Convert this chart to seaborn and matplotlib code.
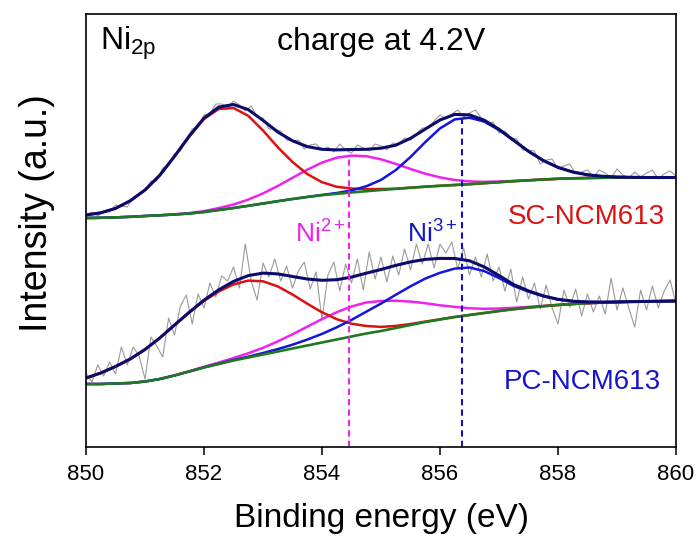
import numpy as np
import pandas as pd
import matplotlib
matplotlib.use("Agg")
import matplotlib.pyplot as plt
import seaborn as sns

# Binding energy grids (eV): fitted curves every 0.25 eV, raw spectra every 0.1 eV
fit_energy = np.round(np.arange(850.0, 860.001, 0.25), 2)
raw_energy = np.round(np.arange(850.0, 860.001, 0.1), 1)

# SC-NCM613 (upper spectrum), intensity in arbitrary units
sc_baseline = [229.0, 229.2, 229.6, 230.2, 231.0, 231.7, 232.5, 233.5, 235.0, 237.0,
               239.0, 241.2, 243.5, 245.8, 248.0, 250.0, 251.8, 253.2, 254.5, 255.8,
               257.0, 258.2, 259.3, 260.3, 261.2, 262.0, 262.8, 263.8, 264.8, 265.8,
               266.7, 267.5, 268.2, 268.7, 269.0, 269.2, 269.4, 269.5, 269.5, 269.5, 269.5]
sc_red = [232.0, 234.2, 238.6, 246.2, 257.0, 271.7, 290.5, 310.5, 328.0, 338.0,
          339.0, 331.2, 316.5, 299.8, 285.0, 273.0, 264.8, 260.2, 258.5, 257.8,
          258.0, 258.2, 259.3, 260.3, 261.2, 262.0, 262.8, 263.8, 264.8, 265.8,
          266.7, 267.5, 268.2, 268.7, 269.0, 269.2, 269.4, 269.5, 269.5, 269.5, 269.5]
sc_ni2 = [229.0, 229.2, 229.6, 230.2, 231.0, 231.7, 232.7, 233.9, 235.9, 238.9,
          242.5, 247.4, 253.6, 261.0, 269.2, 277.3, 284.4, 289.3, 291.4, 290.8,
          287.7, 283.1, 278.0, 273.3, 269.6, 267.0, 265.6, 265.2, 265.5, 266.1,
          266.7, 267.5, 268.2, 268.7, 269.0, 269.2, 269.4, 269.5, 269.5, 269.5, 269.5]
sc_ni3 = [229.0, 229.2, 229.6, 230.2, 231.0, 231.7, 232.5, 233.5, 235.0, 237.0,
          239.0, 241.2, 243.5, 245.8, 248.0, 250.1, 252.1, 254.0, 256.6, 260.7,
          267.1, 276.9, 290.0, 304.9, 318.6, 327.6, 329.3, 325.4, 317.0, 306.4,
          295.7, 286.5, 279.6, 275.0, 272.2, 270.7, 270.0, 269.7, 269.5, 269.5, 269.5]
sc_envelope = [232.0, 234.2, 238.6, 246.2, 257.0, 271.7, 290.7, 310.9, 328.9, 339.9,
               342.5, 337.4, 326.6, 315.0, 306.2, 300.4, 297.7, 297.1, 297.5, 297.7,
               298.8, 301.8, 308.7, 317.9, 327.0, 332.6, 332.1, 326.8, 317.7, 306.7,
               295.7, 286.5, 279.6, 275.0, 272.2, 270.7, 270.0, 269.7, 269.5, 269.5, 269.5]
sc_raw = [232, 235, 231, 236, 235, 242, 241, 240, 250, 253,
          256, 266, 266, 279, 282, 293, 296, 308, 318, 320,
          332, 333, 343, 343, 340, 346, 342, 336, 341, 330,
          329, 318, 318, 316, 307, 306, 307, 298, 302, 303,
          297, 300, 295, 303, 297, 294, 302, 299, 296, 303,
          301, 297, 304, 303, 309, 307, 313, 319, 319, 326,
          332, 328, 333, 337, 330, 334, 337, 329, 323, 325,
          314, 316, 309, 308, 297, 297, 296, 283, 287, 288,
          278, 281, 283, 273, 275, 277, 270, 277, 274, 269,
          278, 272, 269, 275, 270, 274, 277, 268, 273, 276, 271]

# PC-NCM613 (lower spectrum)
pc_baseline = [63.0, 63.0, 63.5, 64.0, 65.5, 68.0, 71.5, 75.5, 79.5, 83.0,
               86.5, 89.5, 92.5, 95.5, 98.5, 101.5, 104.5, 107.5, 110.5, 113.5,
               116.0, 119.0, 122.0, 125.0, 127.5, 130.0, 132.0, 134.0, 136.0, 137.8,
               139.4, 140.8, 142.0, 143.0, 143.8, 144.4, 144.9, 145.3, 145.6, 145.8, 146.0]
pc_red = [69.0, 74.0, 80.5, 88.0, 97.5, 109.0, 121.8, 134.5, 146.1, 155.5,
          162.6, 166.4, 165.7, 160.6, 152.5, 143.3, 134.7, 127.8, 123.3, 121.0,
          120.1, 121.1, 123.0, 125.4, 127.7, 130.0, 132.0, 134.0, 136.0, 137.8,
          139.4, 140.8, 142.0, 143.0, 143.8, 144.4, 144.9, 145.3, 145.6, 145.8, 146.0]
pc_ni2 = [63.0, 63.0, 63.5, 64.0, 65.5, 68.0, 71.7, 75.8, 80.2, 84.4,
          89.0, 93.7, 99.2, 105.6, 112.7, 120.3, 127.9, 134.8, 140.5, 144.5,
          146.0, 146.3, 145.4, 143.8, 141.7, 140.1, 138.7, 138.2, 138.5, 139.2,
          140.1, 141.1, 142.2, 143.0, 143.8, 144.4, 144.9, 145.3, 145.6, 145.8, 146.0]
pc_ni3 = [63.0, 63.0, 63.5, 64.0, 65.5, 68.0, 71.5, 75.5, 79.6, 83.3,
          87.0, 90.3, 94.0, 97.9, 102.3, 107.4, 113.1, 119.7, 127.1, 135.3,
          143.4, 152.2, 160.7, 168.4, 174.2, 178.4, 179.5, 175.9, 169.0, 161.0,
          155.4, 150.8, 147.5, 145.8, 145.0, 144.9, 145.1, 145.3, 145.6, 145.8, 146.0]
pc_envelope = [69.0, 74.0, 80.5, 88.0, 97.5, 109.0, 122.0, 134.8, 146.9, 157.2,
               165.6, 171.4, 173.9, 173.1, 170.5, 168.0, 166.7, 167.3, 169.9, 173.8,
               177.5, 181.6, 185.1, 187.6, 188.6, 188.5, 186.2, 180.1, 171.5, 162.4,
               156.1, 151.1, 147.7, 145.8, 145.0, 144.9, 145.1, 145.3, 145.6, 145.8, 146.0]
pc_raw = [74, 65, 82, 71, 85, 73, 100, 82, 100, 91,
          68, 110, 101, 90, 129, 112, 141, 152, 123, 153,
          139, 164, 150, 171, 166, 180, 159, 203, 166, 147,
          184, 170, 188, 166, 181, 159, 176, 185, 158, 175,
          127, 172, 185, 156, 183, 164, 188, 157, 195, 168,
          190, 165, 191, 172, 198, 177, 203, 183, 203, 179,
          203, 194, 205, 178, 199, 172, 190, 170, 193, 166,
          180, 156, 178, 145, 170, 148, 164, 138, 162, 139,
          123, 157, 140, 158, 131, 153, 135, 151, 133, 169,
          137, 159, 139, 120, 157, 137, 161, 139, 156, 167, 143]

# peak positions marked with dashed lines (eV)
ni2_position = 854.45
ni3_position = 856.37

sns.set_style("ticks")
plt.rcParams['font.family'] = ['Liberation Sans', 'DejaVu Sans']
plt.rcParams['mathtext.fontset'] = 'custom'
plt.rcParams['mathtext.rm'] = 'Liberation Sans'
plt.rcParams['mathtext.it'] = 'Liberation Sans:italic'
plt.rcParams['text.color'] = 'black'
plt.rcParams['axes.labelcolor'] = 'black'
plt.rcParams['xtick.color'] = 'black'

fig = plt.figure(figsize=(6.98, 5.4), dpi=100)
ax = fig.add_axes([86 / 698, 93 / 540, 590 / 698, 433 / 540])

fit_df = pd.DataFrame({'energy': fit_energy})
raw_df = pd.DataFrame({'energy': raw_energy, 'sc': sc_raw, 'pc': pc_raw})

# raw spectra
for col in ['sc', 'pc']:
    sns.lineplot(data=raw_df, x='energy', y=col, color='#9a9a9a', lw=0.8, estimator=None, ax=ax)

# fitted components, then the baseline, envelope on top
curves = [
    (sc_ni2, '#ee22ee', 1.8), (pc_ni2, '#ee22ee', 1.8),
    (sc_red, '#dd1111', 1.8), (pc_red, '#dd1111', 1.8),
    (sc_ni3, '#1414dd', 1.8), (pc_ni3, '#1414dd', 1.8),
    (sc_baseline, '#1f7a1f', 1.9), (pc_baseline, '#1f7a1f', 1.9),
    (sc_envelope, '#0b0b6b', 2.2), (pc_envelope, '#0b0b6b', 2.2),
]
for values, color, width in curves:
    sns.lineplot(x=fit_df['energy'], y=values, color=color, lw=width, estimator=None, ax=ax)

# dashed markers from the SC component maxima down to the axis
ax.vlines(ni2_position, 0, max(sc_ni2), colors='#ee22ee', linestyles=(0, (3, 2)), lw=1.5)
ax.vlines(ni3_position, 0, max(sc_ni3), colors='#1414aa', linestyles=(0, (3, 2)), lw=1.5)

ax.set_xlim(850, 860)
ax.set_ylim(0, 433)
ax.set_xticks([850, 852, 854, 856, 858, 860])
ax.set_yticks([])
ax.tick_params(axis='x', direction='out', length=6, width=1.1, labelsize=16, pad=6)
for spine in ax.spines.values():
    spine.set_visible(True)
    spine.set_linewidth(1.2)
    spine.set_color('black')

ax.set_xlabel('Binding energy (eV)', fontsize=24, labelpad=13)
ax.set_ylabel('Intensity (a.u.)', fontsize=27)
ax.yaxis.set_label_coords(-0.053, 0.54)

ax.text(0.024, 0.975, r'Ni$_{\mathrm{2p}}$', transform=ax.transAxes, fontsize=23, ha='left', va='top')
ax.text(0.5, 0.935, 'charge at 4.2V', transform=ax.transAxes, fontsize=23, ha='center', va='center')
ax.text(0.981, 0.531, 'SC-NCM613', transform=ax.transAxes, fontsize=20, color='#dd1111', ha='right', va='center')
ax.text(0.975, 0.150, 'PC-NCM613', transform=ax.transAxes, fontsize=20, color='#1414cc', ha='right', va='center')
ax.text(ni2_position - 0.06, 213, r'Ni$^{2+}$', fontsize=19, color='#ee22ee', ha='right', va='center')
ax.text(ni3_position - 0.08, 213, r'Ni$^{3+}$', fontsize=19, color='#1414cc', ha='right', va='center')

fig.savefig('out.png', dpi=100)
plt.close(fig)
